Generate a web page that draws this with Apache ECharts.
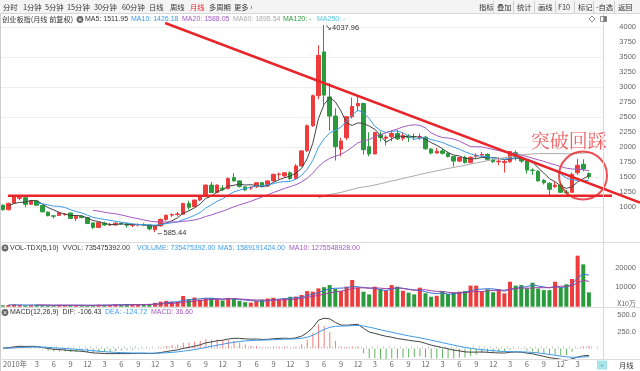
<!DOCTYPE html>
<html><head><meta charset="utf-8">
<script src="https://cdn.jsdelivr.net/npm/echarts@6/dist/echarts.min.js"></script>
<style>html,body{margin:0;padding:0;background:#fff}#c{width:640px;height:371px}</style>
</head><body><div id="c"></div>
<script>
// ---------- DATA (monthly, 创业板指) ----------
const months = [
'2010-06','2010-07','2010-08','2010-09','2010-10','2010-11','2010-12',
'2011-01','2011-02','2011-03','2011-04','2011-05','2011-06','2011-07','2011-08','2011-09','2011-10','2011-11','2011-12',
'2012-01','2012-02','2012-03','2012-04','2012-05','2012-06','2012-07','2012-08','2012-09','2012-10','2012-11','2012-12',
'2013-01','2013-02','2013-03','2013-04','2013-05','2013-06','2013-07','2013-08','2013-09','2013-10','2013-11','2013-12',
'2014-01','2014-02','2014-03','2014-04','2014-05','2014-06','2014-07','2014-08','2014-09','2014-10','2014-11','2014-12',
'2015-01','2015-02','2015-03','2015-04','2015-05','2015-06','2015-07','2015-08','2015-09','2015-10','2015-11','2015-12',
'2016-01','2016-02','2016-03','2016-04','2016-05','2016-06','2016-07','2016-08','2016-09','2016-10','2016-11','2016-12',
'2017-01','2017-02','2017-03','2017-04','2017-05','2017-06','2017-07','2017-08','2017-09','2017-10','2017-11','2017-12',
'2018-01','2018-02','2018-03','2018-04','2018-05','2018-06','2018-07','2018-08','2018-09','2018-10','2018-11','2018-12',
'2019-01','2019-02','2019-03','2019-04','2019-05','2019-06','2019-07'];

const opens = [
1000,980,1075,1035,960,1070,1150,
1160,1050,1105,1030,920,858,865,880,905,815,850,830,
740,665,735,705,705,735,725,700,705,710,705,625,
690,795,870,880,885,1065,1010,1122,1190,1370,1245,1320,
1310,1495,1440,1340,1320,1345,1410,1355,1440,1545,1525,1575,
1480,1690,1945,2360,2860,3590,2840,2520,1970,2160,2510,2690,
2730,2010,1890,2215,2150,2175,2230,2150,2190,2175,2160,2170,
1970,1905,1940,1900,1845,1770,1830,1745,1850,1870,1880,1790,
1760,1745,1760,1910,1830,1770,1620,1600,1450,1400,1345,1370,
1255,1250,1575,1717,1565];
const closes = [
980,1075,1040,960,1065,1180,1168,
1050,1110,1035,925,860,852,910,885,815,852,828,730,
665,745,705,715,735,720,700,705,710,705,640,690,
800,867,878,890,1065,1000,1120,1185,1370,1245,1370,1300,
1480,1440,1345,1290,1330,1410,1345,1440,1550,1555,1575,1480,
1690,1940,2360,2860,3530,2870,2520,2010,2105,2510,2680,2730,
1960,1890,2245,2165,2170,2230,2140,2195,2165,2170,2180,1975,
1905,1935,1900,1845,1770,1830,1745,1835,1870,1880,1800,1760,
1770,1765,1930,1840,1770,1620,1615,1440,1410,1300,1370,1250,
1245,1550,1700,1640,1512];
const highs = [
1035,1090,1130,1050,1080,1192.36,1185,
1165,1120,1125,1045,930,862,920,905,910,860,870,840,
745,750,760,740,760,745,740,725,730,735,710,700,
810,880,900,920,1070,1110,1130,1200,1380,1423,1380,1370,
1500,1570,1450,1350,1350,1415,1420,1445,1560,1580,1585,1600,
1720,1950,2380,2880,3700,4037.96,3070,2650,2160,2520,2830,2860,
2740,2250,2260,2260,2200,2280,2290,2240,2220,2230,2230,2190,
1985,1990,1975,1920,1860,1840,1860,1850,1900,1920,1900,1820,
1830,1790,1940,1950,1860,1790,1650,1620,1470,1420,1420,1400,
1290,1580,1810,1800,1580];
const lows = [
940,960,1010,945,950,1060,1120,
1000,1040,1025,915,850,815,855,860,810,770,815,720,
640,655,690,690,700,705,660,670,680,690,615,585.44,
680,780,840,850,880,960,1000,1100,1180,1240,1235,1270,
1300,1430,1330,1275,1290,1320,1330,1340,1430,1470,1500,1450,
1470,1680,1920,2340,2800,2710,2280,1780,1850,2120,2480,2600,
1880,1850,1880,2100,2030,2100,2120,2110,2090,2120,2120,1960,
1880,1890,1880,1830,1680,1750,1730,1730,1820,1840,1780,1740,
1700,1580,1740,1780,1740,1560,1540,1430,1380,1195,1320,1240,
1192,1240,1540,1600,1470];
// volume, unit x10万
const volumes = [
800,1100,1000,700,900,1100,900,
700,800,900,700,650,600,900,850,800,700,600,650,
800,1000,900,850,1200,1000,1300,1100,1000,1200,1300,2000,
2600,3000,2600,2500,5500,3800,4700,3600,4300,4600,3700,3200,
4500,4000,3000,2300,2100,3000,3600,4200,4600,3900,4300,5100,
5200,6000,8000,7700,9400,10000,11100,9060,8040,10260,13680,9700,
7700,6300,10260,9060,8200,11100,10260,8200,7200,6300,9750,6900,
5100,5600,8000,6500,7400,7700,8000,10800,10800,7700,8900,7400,
8900,6800,12800,10800,11100,9400,12300,9300,8500,8500,12800,10000,
11500,14200,26160,21700,7355];
const priceTicks = [1000,1250,1500,1750,2000,2250,2500,2750,3000,3250,3500,3750,4000];
const volTicks = [10000,20000];
const macdTicks = [250,500];
const firstShown = 3; // first visible month: 2010-09

// user drawings: [month slot from 2010-09, price]
const trendLine = [[28.8,4072],[113.06,1078]];
const supportLine = [[0.9,1192.36],[108.1,1192.36]];
const circleMark = [102.95,1530];
const noteMark = [100.4,2113];
const noteText = '突破回踩';

// ---------- derived ----------
const RED='#ee3b3b', GREEN='#2a9b3c', INK='#e8262a';
const FL='"Liberation Sans", Arial, sans-serif';
const FC='"Noto Sans CJK SC", "Liberation Sans", sans-serif';
const vis = months.slice(firstShown);
const lastMonth = months[closes.length-1];
const candle = opens.map((o,k)=>[o,closes[k],lows[k],highs[k]]).slice(firstShown);
function ma(src,n){return src.map((v,k)=>k<n-1?'-':+(src.slice(k-n+1,k+1).reduce((a,b)=>a+b,0)/n).toFixed(2)).slice(firstShown);}
function ema(src,n){const a=2/(n+1),out=[];src.forEach((v,i)=>out.push(i===0?v:out[i-1]+a*(v-out[i-1])));return out;}
const e12=ema(closes,12), e26=ema(closes,26);
const dif=e12.map((v,i)=>v-e26[i]);
const dea=ema(dif,9);
const hist=dif.map((v,i)=>2*(v-dea[i]));
const up = opens.map((o,k)=>closes[k]>=o).slice(firstShown);
const volData = volumes.slice(firstShown).map((v,i)=>({value:v,itemStyle:{color:up[i]?RED:GREEN}}));
const histData = hist.slice(firstShown).map(v=>({value:+v.toFixed(2),itemStyle:{color:v>=0?'#f07f7f':'#5fb55f'}}));
const visHighs = highs.slice(firstShown), visLows = lows.slice(firstShown);
const hiMax = Math.max(...visHighs), loMin = Math.min(...visLows);
const hiIdx = visHighs.indexOf(hiMax), loIdx = visLows.indexOf(loMin);

// ---------- chrome ----------
function t(x,y,text,fill,size,font,extra){return {type:'text',x:x,y:y,silent:true,z:60,style:Object.assign({text:text,fill:fill,fontSize:size,fontFamily:font||FL,verticalAlign:'middle',align:'left'},extra||{})};}
function ln(x1,y1,x2,y2,c){return {type:'line',silent:true,z:40,shape:{x1:x1,y1:y1,x2:x2,y2:y2},style:{stroke:c||'#dcdcdc',lineWidth:1}};}
function icon(x,y){return [{type:'circle',silent:true,z:60,shape:{cx:x,cy:y,r:3.4},style:{fill:'#666'}},
  t(x,y+0.3,'×','#fff',7,FL,{align:'center'})];}
const g = [];
g.push({type:'rect',silent:true,z:30,shape:{x:0,y:0,width:640,height:13.5},style:{fill:'#f4f4f4'}});
g.push(ln(0,13.5,640,13.5,'#d8d8d8'));
[['分时',3],['1分钟',23],['5分钟',45],['15分钟',67],['30分钟',94],['60分钟',122],['日线',149],['周线',170],['月线',190],['多周期',209],['更多 ›',234]]
  .forEach(a=>g.push(t(a[1],6.8,a[0],a[0]==='月线'?INK:'#333',7.3,FC)));
[['指标',479],['叠加',497],['统计',517],['画线',538],['F10',558],['标记',578],['-自选',596],['返回',618]]
  .forEach(a=>g.push(t(a[1],6.8,a[0],'#333',7.3,FC)));
[493.5,513.5,534.5,555.5,574.5,593.5,614.5].forEach(x=>g.push(ln(x,1,x,13,'#d0d0d0')));
g.push(ln(0.5,13.5,0.5,371,'#cfcfcf'));
g.push(ln(603.5,13.5,603.5,359.5,'#d8d8d8'));
g.push(ln(0,242.5,640,242.5,'#dcdcdc'));
g.push(ln(0,307.5,640,307.5,'#dcdcdc'));
g.push(ln(0,359.5,640,359.5,'#dcdcdc'));
// price header
g.push(t(2,19.5,'创业板指(月线 前复权)','#333',7.2,FC));
g.push(...icon(80,19.5));
g.push(t(85,19.5,'MA5: 1511.95','#333',7));
g.push(t(131,19.5,'MA10: 1426.18','#3d9be9',7));
g.push(t(182,19.5,'MA20: 1588.05','#a35ac2',7));
g.push(t(233,19.5,'MA60: 1895.54','#aaaaaa',7));
g.push(t(283,19.5,'MA120: -','#2a9b3c',7));
g.push(t(317,19.5,'MA250: -','#4cc7e0',7));
g.push({type:'polygon',silent:true,z:60,shape:{points:[[592,16],[595,19],[592,22],[589,19]]},style:{fill:'none',stroke:'#777',lineWidth:0.8}});
g.push({type:'rect',silent:true,z:60,shape:{x:600.5,y:16.5,width:6,height:5},style:{fill:'none',stroke:'#777',lineWidth:0.8}});
g.push({type:'rect',silent:true,z:60,shape:{x:603.5,y:16.5,width:3,height:5},style:{fill:'#777'}});
// vol header
g.push(...icon(5,248));
g.push(t(10,248,'VOL-TDX(5,10)  VVOL: 735475392.00','#333',7));
g.push(t(137,248,'VOLUME: 735475392.00','#3d9be9',7));
g.push(t(218,248,'MA5: 1589191424.00','#3d9be9',7));
g.push(t(289,248,'MA10: 1275548928.00','#a35ac2',7));
// macd header
g.push(...icon(5,312.5));
g.push(t(10,312.5,'MACD(12,26,9)  DIF: -106.43','#333',7));
g.push(t(105,312.5,'DEA: -124.72','#3d9be9',7));
g.push(t(151,312.5,'MACD: 36.60','#a35ac2',7));
// bottom-right period marker
g.push({type:'rect',silent:true,z:60,shape:{x:597,y:360.5,width:10,height:9},style:{fill:'#a6e3ea'}});
g.push(t(602,365,'-','#333',7,FL,{align:'center'}));
g.push(t(619,365,'月线','#333',7.3,FC));

// ---------- chart ----------
const chart = echarts.init(document.getElementById('c'),null,{renderer:'canvas'});
const hidden = {show:false};
const catAxis = (gi,extra)=>Object.assign({type:'category',gridIndex:gi,data:vis,boundaryGap:true,
  axisLine:hidden,axisTick:hidden,axisLabel:hidden,splitLine:hidden},extra||{});
const lbl = {color:'#666',fontSize:7.5,fontFamily:FL,align:'right',margin:33};
const opt = {
  animation:false,
  backgroundColor:'#fff',
  grid:[
    {left:0,top:12.3,width:603,height:225},
    {left:0,top:255,width:603,height:51.7},
    {left:0,top:298.7,width:603,height:66.4},
    {left:0,top:12.3,width:640,height:225},
    {left:0,top:27.3,width:603,height:180}
  ],
  xAxis:[
    catAxis(0), catAxis(1),
    catAxis(2,{offset:-6,axisLine:{show:false},
      axisTick:{show:true,interval:0,length:2,inside:true,lineStyle:{color:'#c8c8c8'}},
      axisLabel:{show:true,margin:1,color:'#666',fontSize:7.5,fontFamily:FC,
        interval:(i,v)=>i===0||(v!=='2010-12'&&v<=lastMonth&&(+v.slice(5))%3===0),
        formatter:(v,i)=>i===0?'{y|'+v.slice(0,4)+'年}':String(+v.slice(5)),
        rich:{y:{padding:[0,0,0,24],fontSize:7.5,color:'#666',fontFamily:FC}}}}),
    {type:'value',gridIndex:3,min:-0.5,max:113.06,show:false},
    {type:'value',gridIndex:4,min:0,max:1,show:false}
  ],
  yAxis:[
    {type:'value',gridIndex:0,position:'right',min:500,max:4250,interval:250,
      axisLine:hidden,axisTick:hidden,splitLine:hidden,
      axisLabel:Object.assign({},lbl,{formatter:v=>priceTicks.indexOf(v)>=0?String(v):''})},
    {type:'value',gridIndex:1,position:'right',min:0,max:26500,interval:10000,
      axisLine:hidden,axisTick:hidden,splitLine:hidden,
      axisLabel:Object.assign({},lbl,{formatter:v=>v===0?'{u|X10万}':(volTicks.indexOf(v)>=0?String(v):''),
        rich:{u:{fontSize:7,color:'#666',fontFamily:FC,padding:[0,0,7,0]}}})},
    {type:'value',gridIndex:2,position:'right',min:-250,max:750,interval:250,
      axisLine:hidden,axisTick:hidden,splitLine:hidden,
      axisLabel:Object.assign({},lbl,{formatter:v=>macdTicks.indexOf(v)>=0?v.toFixed(1):''})},
    {type:'value',gridIndex:3,min:500,max:4250,show:false},
    {type:'value',gridIndex:4,min:1000,max:4000,interval:500,axisLine:hidden,axisTick:hidden,axisLabel:hidden,
      splitLine:{show:true,lineStyle:{color:'#efefef',width:1}}}
  ],
  graphic:{elements:g},
  series:[
    {type:'candlestick',xAxisIndex:0,yAxisIndex:0,data:candle,barWidth:4,
      itemStyle:{color:RED,color0:GREEN,borderColor:RED,borderColor0:GREEN,borderWidth:1},
      markPoint:{symbol:'circle',symbolSize:0,silent:true,
        label:{show:true,position:'right',distance:1,color:'#333',fontSize:7.5,fontFamily:FL},
        data:[{coord:[vis[hiIdx],hiMax],label:{formatter:'↘'+hiMax.toFixed(2),offset:[0,3]}},
              {coord:[vis[loIdx],loMin],label:{formatter:'←'+loMin.toFixed(2),offset:[0,1]}}]}},
    {type:'line',xAxisIndex:0,yAxisIndex:0,data:ma(closes,5),showSymbol:false,lineStyle:{color:'#444',width:1}},
    {type:'line',xAxisIndex:0,yAxisIndex:0,data:ma(closes,10),showSymbol:false,lineStyle:{color:'#3d9be9',width:1}},
    {type:'line',xAxisIndex:0,yAxisIndex:0,data:ma(closes,20),showSymbol:false,lineStyle:{color:'#a35ac2',width:1}},
    {type:'line',xAxisIndex:0,yAxisIndex:0,data:ma(closes,60),showSymbol:false,lineStyle:{color:'#aaaaaa',width:1}},
    {type:'bar',xAxisIndex:1,yAxisIndex:1,data:volData,barWidth:4},
    {type:'line',xAxisIndex:1,yAxisIndex:1,data:ma(volumes,5),showSymbol:false,lineStyle:{color:'#3a6fd0',width:1}},
    {type:'line',xAxisIndex:1,yAxisIndex:1,data:ma(volumes,10),showSymbol:false,lineStyle:{color:'#a040a0',width:1}},
    {type:'bar',xAxisIndex:2,yAxisIndex:2,data:histData,barWidth:1},
    {type:'line',xAxisIndex:2,yAxisIndex:2,data:dif.slice(firstShown).map(v=>+v.toFixed(2)),showSymbol:false,lineStyle:{color:'#444',width:1}},
    {type:'line',xAxisIndex:2,yAxisIndex:2,data:dea.slice(firstShown).map(v=>+v.toFixed(2)),showSymbol:false,lineStyle:{color:'#3d9be9',width:1}},
    {type:'line',xAxisIndex:3,yAxisIndex:3,data:trendLine,showSymbol:false,clip:false,z:10,lineStyle:{color:INK,width:2.5}},
    {type:'line',xAxisIndex:3,yAxisIndex:3,data:[{value:supportLine[0],label:{show:true,formatter:'1192.36',position:'top',align:'left',distance:2,color:INK,fontSize:7.5,fontFamily:FL}},supportLine[1]],
      showSymbol:false,symbolSize:0,clip:false,z:10,lineStyle:{color:INK,width:2.5}},
    {type:'scatter',xAxisIndex:3,yAxisIndex:3,data:[circleMark],symbol:'circle',symbolSize:48,z:10,silent:true,
      itemStyle:{color:'rgba(0,0,0,0)',borderColor:INK,borderWidth:2}},
    {type:'scatter',xAxisIndex:3,yAxisIndex:3,data:[noteMark],symbolSize:1,z:10,silent:true,itemStyle:{color:'rgba(0,0,0,0)'},
      label:{show:true,position:'inside',formatter:noteText,color:'#e8393e',fontSize:19,fontFamily:'"Noto Serif CJK SC","Noto Sans CJK SC",serif'}},
    {type:'scatter',xAxisIndex:4,yAxisIndex:4,data:[]}
  ]
};
chart.setOption(opt);
</script></body></html>
